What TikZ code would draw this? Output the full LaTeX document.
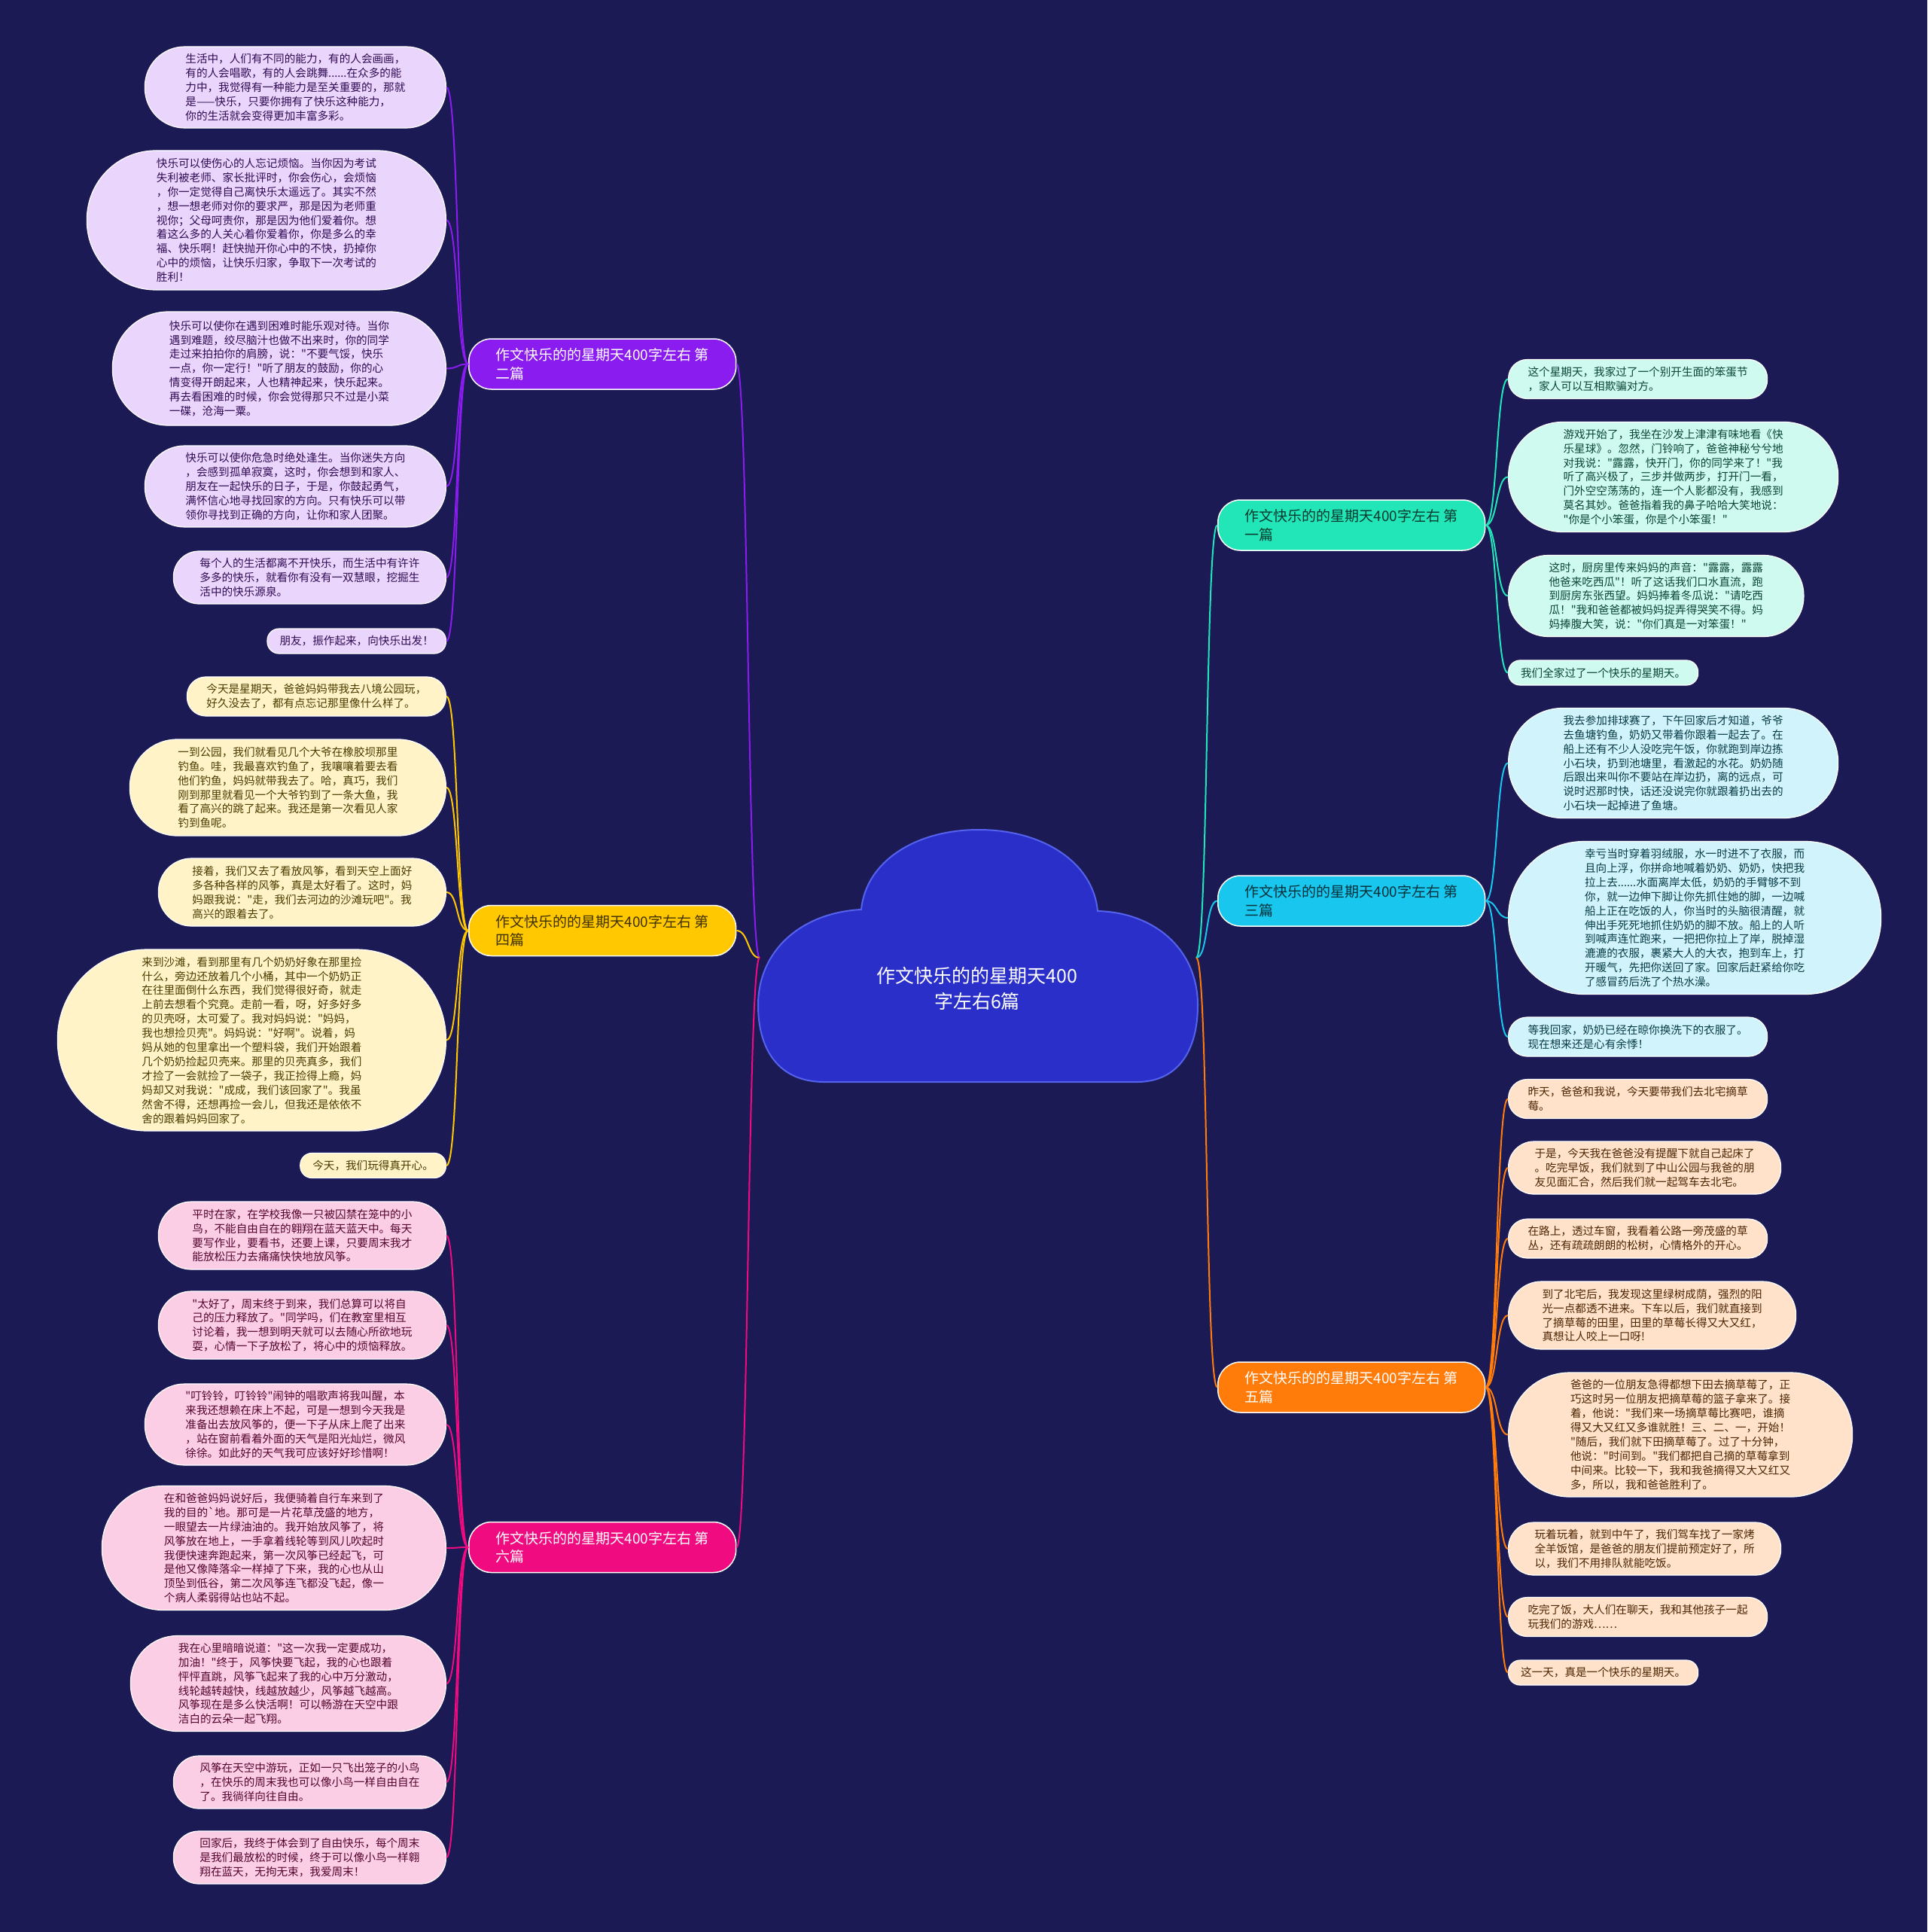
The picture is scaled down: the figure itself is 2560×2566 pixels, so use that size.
\documentclass[tikz,border=0pt]{standalone}
\usepackage{fontspec}
\setmainfont{Noto Sans CJK SC}[Ligatures=TeXOff]
\usepackage{tikz}
\definecolor{mapnavy}{HTML}{1B1A55}
\definecolor{mapcloud}{HTML}{2A2FC9}
\definecolor{mapcloudedge}{HTML}{5462EE}
\definecolor{mappurple}{HTML}{8A1CF0}
\definecolor{mapyellow}{HTML}{FFC800}
\definecolor{mapmagenta}{HTML}{F00C80}
\definecolor{mapteal}{HTML}{22E6B8}
\definecolor{mapcyan}{HTML}{18C6EE}
\definecolor{maporange}{HTML}{FF7B0A}

\begin{document}
\begin{tikzpicture}[
  x=1pt, y=-1pt,
  cloud/.style={fill=mapcloud, draw=mapcloudedge, line width=2pt},
  root/.style={text=white, align=center, font=\fontsize{25}{34}\selectfont},
  branch/.style={rectangle, rounded corners=30, draw=white, line width=1.5pt, minimum height=67, inner xsep=36, inner ysep=2, align=left, font=\fontsize{19}{24.5}\selectfont},
  leaf/.style={rectangle, draw=white, line width=1.2pt, align=left, inner ysep=2, font=\fontsize{14.6}{18.9}\selectfont, minimum height=#1, inner xsep=#1/2, rounded corners=#1/2-1},
  pleaf/.style={leaf=#1, fill=mappurple!18, text=mappurple!35!black},
  yleaf/.style={leaf=#1, fill=mapyellow!22, text=mapyellow!30!black},
  mleaf/.style={leaf=#1, fill=mapmagenta!20, text=mapmagenta!35!black},
  tleaf/.style={leaf=#1, fill=mapteal!22, text=mapteal!30!black},
  cleaf/.style={leaf=#1, fill=mapcyan!20, text=mapcyan!30!black},
  oleaf/.style={leaf=#1, fill=maporange!22, text=maporange!30!black},
  link/.style={draw=#1, line width=2pt},
]
  \fill[mapnavy] (0,0) rectangle (2560,2566);
  \useasboundingbox (0,0) rectangle (2560,2566);

  % centre
  \filldraw[cloud] (1095,1437) -- (1510,1437)
    .. controls (1565,1437) and (1591,1395) .. (1591,1335)
    .. controls (1591,1262) and (1535,1212) .. (1458,1210)
    .. controls (1452,1145) and (1385,1102) .. (1300,1102)
    .. controls (1215,1102) and (1150,1145) .. (1144,1208)
    .. controls (1065,1212) and (1007,1262) .. (1007,1335)
    .. controls (1007,1395) and (1035,1437) .. (1095,1437) -- cycle;
  \node[root] (root) at (1298,1313) {作文快乐的的星期天400\\字左右6篇};
  \coordinate (rootw) at (1009,1272);
  \coordinate (roote) at (1589,1272);

  % branches
  \node[branch, fill=mappurple, text=white, anchor=west] (b2) at (622,483.5) {作文快乐的的星期天400字左右 第\\二篇};
  \node[branch, fill=mapyellow, text=mapyellow!25!black, anchor=west] (b4) at (622,1236) {作文快乐的的星期天400字左右 第\\四篇};
  \node[branch, fill=mapmagenta, text=white, anchor=west] (b6) at (622,2055) {作文快乐的的星期天400字左右 第\\六篇};
  \node[branch, fill=mapteal, text=mapteal!25!black, anchor=west] (b1) at (1617,697.5) {作文快乐的的星期天400字左右 第\\一篇};
  \node[branch, fill=mapcyan, text=mapcyan!25!black, anchor=west] (b3) at (1617,1196.5) {作文快乐的的星期天400字左右 第\\三篇};
  \node[branch, fill=maporange, text=white, anchor=west] (b5) at (1617,1842.5) {作文快乐的的星期天400字左右 第\\五篇};

  % second essay
  \node[pleaf=108, anchor=east] (p1) at (593,116) {生活中，人们有不同的能力，有的人会画画，\\有的人会唱歌，有的人会跳舞......在众多的能\\力中，我觉得有一种能力是至关重要的，那就\\是——快乐，只要你拥有了快乐这种能力，\\你的生活就会变得更加丰富多彩。};
  \node[pleaf=185, anchor=east] (p2) at (593,292.5) {快乐可以使伤心的人忘记烦恼。当你因为考试\\失利被老师、家长批评时，你会伤心，会烦恼\\，你一定觉得自己离快乐太遥远了。其实不然\\，想一想老师对你的要求严，那是因为老师重\\视你；父母呵责你，那是因为他们爱着你。想\\着这么多的人关心着你爱着你，你是多么的幸\\福、快乐啊！赶快抛开你心中的不快，扔掉你\\心中的烦恼，让快乐归家，争取下一次考试的\\胜利！};
  \node[pleaf=151, anchor=east] (p3) at (593,489.5) {快乐可以使你在遇到困难时能乐观对待。当你\\遇到难题，绞尽脑汁也做不出来时，你的同学\\走过来拍拍你的肩膀，说："不要气馁，快乐\\一点，你一定行！"听了朋友的鼓励，你的心\\情变得开朗起来，人也精神起来，快乐起来。\\再去看困难的时候，你会觉得那只不过是小菜\\一碟，沧海一粟。};
  \node[pleaf=108, anchor=east] (p4) at (593,646) {快乐可以使你危急时绝处逢生。当你迷失方向\\，会感到孤单寂寞，这时，你会想到和家人、\\朋友在一起快乐的日子，于是，你鼓起勇气，\\满怀信心地寻找回家的方向。只有快乐可以带\\领你寻找到正确的方向，让你和家人团聚。};
  \node[pleaf=70, anchor=east] (p5) at (593,767) {每个人的生活都离不开快乐，而生活中有许许\\多多的快乐，就看你有没有一双慧眼，挖掘生\\活中的快乐源泉。};
  \node[pleaf=33, anchor=east] (p6) at (593,851.5) {朋友，振作起来，向快乐出发！};

  % fourth essay
  \node[yleaf=52, anchor=east] (y1) at (593,925) {今天是星期天，爸爸妈妈带我去八境公园玩，\\好久没去了，都有点忘记那里像什么样了。};
  \node[yleaf=128, anchor=east] (y2) at (593,1046) {一到公园，我们就看见几个大爷在橡胶坝那里\\钓鱼。哇，我最喜欢钓鱼了，我嚷嚷着要去看\\他们钓鱼，妈妈就带我去了。哈，真巧，我们\\刚到那里就看见一个大爷钓到了一条大鱼，我\\看了高兴的跳了起来。我还是第一次看见人家\\钓到鱼呢。};
  \node[yleaf=90, anchor=east] (y3) at (593,1185) {接着，我们又去了看放风筝，看到天空上面好\\多各种各样的风筝，真是太好看了。这时，妈\\妈跟我说："走，我们去河边的沙滩玩吧"。我\\高兴的跟着去了。};
  \node[yleaf=241, anchor=east, inner xsep=112] (y4) at (593,1381.5) {来到沙滩，看到那里有几个奶奶好象在那里捡\\什么，旁边还放着几个小桶，其中一个奶奶正\\在往里面倒什么东西，我们觉得很好奇，就走\\上前去想看个究竟。走前一看，呀，好多好多\\的贝壳呀，太可爱了。我对妈妈说："妈妈，\\我也想捡贝壳"。妈妈说："好啊"。说着，妈\\妈从她的包里拿出一个塑料袋，我们开始跟着\\几个奶奶捡起贝壳来。那里的贝壳真多，我们\\才捡了一会就捡了一袋子，我正捡得上瘾，妈\\妈却又对我说："成成，我们该回家了"。我虽\\然舍不得，还想再捡一会儿，但我还是依依不\\舍的跟着妈妈回家了。};
  \node[yleaf=33, anchor=east] (y5) at (593,1548) {今天，我们玩得真开心。};

  % sixth essay
  \node[mleaf=90, anchor=east] (m1) at (593,1641) {平时在家，在学校我像一只被囚禁在笼中的小\\鸟，不能自由自在的翱翔在蓝天蓝天中。每天\\要写作业，要看书，还要上课，只要周末我才\\能放松压力去痛痛快快地放风筝。};
  \node[mleaf=90, anchor=east] (m2) at (593,1760) {"太好了，周末终于到来，我们总算可以将自\\己的压力释放了。"同学吗，们在教室里相互\\讨论着，我一想到明天就可以去随心所欲地玩\\耍，心情一下子放松了，将心中的烦恼释放。};
  \node[mleaf=108, anchor=east] (m3) at (593,1892) {"叮铃铃，叮铃铃"闹钟的唱歌声将我叫醒，本\\来我还想赖在床上不起，可是一想到今天我是\\准备出去放风筝的，便一下子从床上爬了出来\\，站在窗前看着外面的天气是阳光灿烂，微风\\徐徐。如此好的天气我可应该好好珍惜啊！};
  \node[mleaf=165, anchor=east] (m4) at (593,2056) {在和爸爸妈妈说好后，我便骑着自行车来到了\\我的目的`地。那可是一片花草茂盛的地方，\\一眼望去一片绿油油的。我开始放风筝了，将\\风筝放在地上，一手拿着线轮等到风儿吹起时\\我便快速奔跑起来，第一次风筝已经起飞，可\\是他又像降落伞一样掉了下来，我的心也从山\\顶坠到低谷，第二次风筝连飞都没飞起，像一\\个病人柔弱得站也站不起。};
  \node[mleaf=127, anchor=east] (m5) at (593,2236) {我在心里暗暗说道："这一次我一定要成功，\\加油！"终于，风筝快要飞起，我的心也跟着\\怦怦直跳，风筝飞起来了我的心中万分激动，\\线轮越转越快，线越放越少，风筝越飞越高。\\风筝现在是多么快活啊！可以畅游在天空中跟\\洁白的云朵一起飞翔。};
  \node[mleaf=70, anchor=east] (m6) at (593,2367) {风筝在天空中游玩，正如一只飞出笼子的小鸟\\，在快乐的周末我也可以像小鸟一样自由自在\\了。我徜徉向往自由。};
  \node[mleaf=70, anchor=east] (m7) at (593,2467) {回家后，我终于体会到了自由快乐，每个周末\\是我们最放松的时候，终于可以像小鸟一样翱\\翔在蓝天，无拘无束，我爱周末！};

  % first essay
  \node[tleaf=52, anchor=west] (t1) at (2003,503.5) {这个星期天，我家过了一个别开生面的笨蛋节\\，家人可以互相欺骗对方。};
  \node[tleaf=146, anchor=west] (t2) at (2003,633.5) {游戏开始了，我坐在沙发上津津有味地看《快\\乐星球》。忽然，门铃响了，爸爸神秘兮兮地\\对我说："露露，快开门，你的同学来了！"我\\听了高兴极了，三步并做两步，打开门一看，\\门外空空荡荡的，连一个人影都没有，我感到\\莫名其妙。爸爸指着我的鼻子哈哈大笑地说：\\"你是个小笨蛋，你是个小笨蛋！"};
  \node[tleaf=108, anchor=west] (t3) at (2003,791.5) {这时，厨房里传来妈妈的声音："露露，露露\\他爸来吃西瓜"！听了这话我们口水直流，跑\\到厨房东张西望。妈妈捧着冬瓜说："请吃西\\瓜！"我和爸爸都被妈妈捉弄得哭笑不得。妈\\妈捧腹大笑，说："你们真是一对笨蛋！"};
  \node[tleaf=33, anchor=west] (t4) at (2003,893.5) {我们全家过了一个快乐的星期天。};

  % third essay
  \node[cleaf=146, anchor=west] (c1) at (2003,1013.5) {我去参加排球赛了，下午回家后才知道，爷爷\\去鱼塘钓鱼，奶奶又带着你跟着一起去了。在\\船上还有不少人没吃完午饭，你就跑到岸边拣\\小石块，扔到池塘里，看激起的水花。奶奶随\\后跟出来叫你不要站在岸边扔，离的远点，可\\说时迟那时快，话还没说完你就跟着扔出去的\\小石块一起掉进了鱼塘。};
  \node[cleaf=203, anchor=west] (c2) at (2003,1219) {幸亏当时穿着羽绒服，水一时进不了衣服，而\\且向上浮，你拼命地喊着奶奶、奶奶，快把我\\拉上去......水面离岸太低，奶奶的手臂够不到\\你，就一边伸下脚让你先抓住她的脚，一边喊\\船上正在吃饭的人，你当时的头脑很清醒，就\\伸出手死死地抓住奶奶的脚不放。船上的人听\\到喊声连忙跑来，一把把你拉上了岸，脱掉湿\\漉漉的衣服，裹紧大人的大衣，抱到车上，打\\开暖气，先把你送回了家。回家后赶紧给你吃\\了感冒药后洗了个热水澡。};
  \node[cleaf=52, anchor=west] (c3) at (2003,1377) {等我回家，奶奶已经在晾你换洗下的衣服了。\\现在想来还是心有余悸！};

  % fifth essay
  \node[oleaf=52, anchor=west] (o1) at (2003,1459.5) {昨天，爸爸和我说，今天要带我们去北宅摘草\\莓。};
  \node[oleaf=70, anchor=west] (o2) at (2003,1551) {于是，今天我在爸爸没有提醒下就自己起床了\\。吃完早饭，我们就到了中山公园与我爸的朋\\友见面汇合，然后我们就一起驾车去北宅。};
  \node[oleaf=52, anchor=west] (o3) at (2003,1645) {在路上，透过车窗，我看着公路一旁茂盛的草\\丛，还有疏疏朗朗的松树，心情格外的开心。};
  \node[oleaf=90, anchor=west] (o4) at (2003,1747) {到了北宅后，我发现这里绿树成荫，强烈的阳\\光一点都透不进来。下车以后，我们就直接到\\了摘草莓的田里，田里的草莓长得又大又红，\\真想让人咬上一口呀!};
  \node[oleaf=165, anchor=west] (o5) at (2003,1905.5) {爸爸的一位朋友急得都想下田去摘草莓了，正\\巧这时另一位朋友把摘草莓的篮子拿来了。接\\着，他说："我们来一场摘草莓比赛吧，谁摘\\得又大又红又多谁就胜！三、二、一，开始！\\"随后，我们就下田摘草莓了。过了十分钟，\\他说："时间到。"我们都把自己摘的草莓拿到\\中间来。比较一下，我和我爸摘得又大又红又\\多，所以，我和爸爸胜利了。};
  \node[oleaf=70, anchor=west] (o6) at (2003,2057) {玩着玩着，就到中午了，我们驾车找了一家烤\\全羊饭馆，是爸爸的朋友们提前预定好了，所\\以，我们不用排队就能吃饭。};
  \node[oleaf=52, anchor=west] (o7) at (2003,2147.5) {吃完了饭，大人们在聊天，我和其他孩子一起\\玩我们的游戏……};
  \node[oleaf=33, anchor=west] (o8) at (2003,2221.5) {这一天，真是一个快乐的星期天。};

  % links from the centre
  \draw[link=mappurple] (rootw) .. controls +(-16,0) and +(16,0) .. (b2.east);
  \draw[link=mapyellow] (rootw) .. controls +(-16,0) and +(16,0) .. (b4.east);
  \draw[link=mapmagenta] (rootw) .. controls +(-16,0) and +(16,0) .. (b6.east);
  \draw[link=mapteal] (roote) .. controls +(16,0) and +(-16,0) .. (b1.west);
  \draw[link=mapcyan] (roote) .. controls +(16,0) and +(-16,0) .. (b3.west);
  \draw[link=maporange] (roote) .. controls +(16,0) and +(-16,0) .. (b5.west);

  % links to the leaves
  \draw[link=mappurple] (b2.west) .. controls +(-16,0) and +(16,0) .. (p1.east);
  \draw[link=mappurple] (b2.west) .. controls +(-16,0) and +(16,0) .. (p2.east);
  \draw[link=mappurple] (b2.west) .. controls +(-16,0) and +(16,0) .. (p3.east);
  \draw[link=mappurple] (b2.west) .. controls +(-16,0) and +(16,0) .. (p4.east);
  \draw[link=mappurple] (b2.west) .. controls +(-16,0) and +(16,0) .. (p5.east);
  \draw[link=mappurple] (b2.west) .. controls +(-16,0) and +(16,0) .. (p6.east);
  \draw[link=mapyellow] (b4.west) .. controls +(-16,0) and +(16,0) .. (y1.east);
  \draw[link=mapyellow] (b4.west) .. controls +(-16,0) and +(16,0) .. (y2.east);
  \draw[link=mapyellow] (b4.west) .. controls +(-16,0) and +(16,0) .. (y3.east);
  \draw[link=mapyellow] (b4.west) .. controls +(-16,0) and +(16,0) .. (y4.east);
  \draw[link=mapyellow] (b4.west) .. controls +(-16,0) and +(16,0) .. (y5.east);
  \draw[link=mapmagenta] (b6.west) .. controls +(-16,0) and +(16,0) .. (m1.east);
  \draw[link=mapmagenta] (b6.west) .. controls +(-16,0) and +(16,0) .. (m2.east);
  \draw[link=mapmagenta] (b6.west) .. controls +(-16,0) and +(16,0) .. (m3.east);
  \draw[link=mapmagenta] (b6.west) .. controls +(-16,0) and +(16,0) .. (m4.east);
  \draw[link=mapmagenta] (b6.west) .. controls +(-16,0) and +(16,0) .. (m5.east);
  \draw[link=mapmagenta] (b6.west) .. controls +(-16,0) and +(16,0) .. (m6.east);
  \draw[link=mapmagenta] (b6.west) .. controls +(-16,0) and +(16,0) .. (m7.east);
  \draw[link=mapteal] (b1.east) .. controls +(16,0) and +(-16,0) .. (t1.west);
  \draw[link=mapteal] (b1.east) .. controls +(16,0) and +(-16,0) .. (t2.west);
  \draw[link=mapteal] (b1.east) .. controls +(16,0) and +(-16,0) .. (t3.west);
  \draw[link=mapteal] (b1.east) .. controls +(16,0) and +(-16,0) .. (t4.west);
  \draw[link=mapcyan] (b3.east) .. controls +(16,0) and +(-16,0) .. (c1.west);
  \draw[link=mapcyan] (b3.east) .. controls +(16,0) and +(-16,0) .. (c2.west);
  \draw[link=mapcyan] (b3.east) .. controls +(16,0) and +(-16,0) .. (c3.west);
  \draw[link=maporange] (b5.east) .. controls +(16,0) and +(-16,0) .. (o1.west);
  \draw[link=maporange] (b5.east) .. controls +(16,0) and +(-16,0) .. (o2.west);
  \draw[link=maporange] (b5.east) .. controls +(16,0) and +(-16,0) .. (o3.west);
  \draw[link=maporange] (b5.east) .. controls +(16,0) and +(-16,0) .. (o4.west);
  \draw[link=maporange] (b5.east) .. controls +(16,0) and +(-16,0) .. (o5.west);
  \draw[link=maporange] (b5.east) .. controls +(16,0) and +(-16,0) .. (o6.west);
  \draw[link=maporange] (b5.east) .. controls +(16,0) and +(-16,0) .. (o7.west);
  \draw[link=maporange] (b5.east) .. controls +(16,0) and +(-16,0) .. (o8.west);
\end{tikzpicture}
\end{document}
